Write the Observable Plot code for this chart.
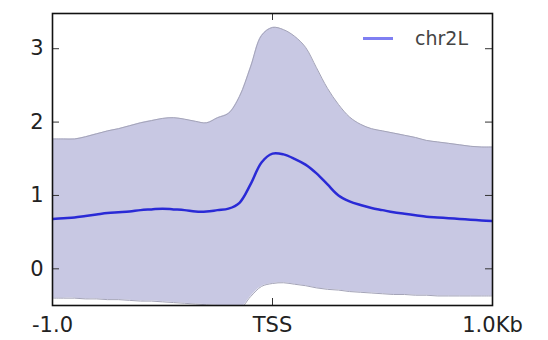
<!DOCTYPE html>
<html>
<head>
<meta charset="utf-8">
<script src="https://cdn.jsdelivr.net/npm/d3@7"></script>
<script src="https://cdn.jsdelivr.net/npm/@observablehq/plot@0.6"></script>
<style>
  html, body { margin: 0; padding: 0; background: #fff; }
  #wrap { position: relative; width: 548px; height: 340px; }
  #legend { position: absolute; left: 363px; top: 27px; display: flex; align-items: center;
            font-family: "DejaVu Sans", sans-serif; font-size: 19px; color: #444; }
  #legend .sw { width: 30px; height: 0; border-top: 3px solid #7f7ff2; margin-right: 22px; }
</style>
</head>
<body>
<div id="wrap">
  <div id="chart"></div>
  <div id="legend"><span class="sw"></span><span>chr2L</span></div>
</div>
<script>
// Position relative to TSS (kb)
const positions = [-1.0,-0.95,-0.9,-0.85,-0.8,-0.75,-0.7,-0.65,-0.6,-0.55,-0.5,-0.45,-0.4,-0.35,-0.3,-0.25,-0.2,-0.15,-0.1,-0.05,0,0.05,0.1,0.15,0.2,0.25,0.3,0.35,0.4,0.45,0.5,0.55,0.6,0.65,0.7,0.75,0.8,0.85,0.9,0.95,1.0];
// chr2L mean signal
const meanValues = [0.68,0.69,0.70,0.72,0.74,0.76,0.77,0.78,0.80,0.81,0.82,0.81,0.80,0.78,0.78,0.80,0.82,0.90,1.15,1.45,1.57,1.56,1.50,1.42,1.30,1.15,1.00,0.92,0.87,0.83,0.80,0.77,0.75,0.73,0.71,0.70,0.69,0.68,0.67,0.66,0.65];
// band upper (mean + std)
const upperValues = [1.77,1.77,1.77,1.80,1.84,1.88,1.91,1.95,1.99,2.02,2.05,2.06,2.04,2.01,1.99,2.06,2.12,2.35,2.75,3.18,3.29,3.26,3.17,3.02,2.74,2.46,2.24,2.07,1.97,1.91,1.88,1.85,1.82,1.79,1.75,1.73,1.71,1.69,1.67,1.66,1.66];
// band lower (mean - std)
const lowerValues = [-0.40,-0.40,-0.40,-0.41,-0.41,-0.42,-0.42,-0.43,-0.44,-0.44,-0.45,-0.46,-0.47,-0.48,-0.49,-0.50,-0.52,-0.55,-0.38,-0.24,-0.20,-0.19,-0.21,-0.23,-0.26,-0.28,-0.29,-0.31,-0.32,-0.33,-0.34,-0.35,-0.35,-0.36,-0.36,-0.37,-0.37,-0.37,-0.37,-0.37,-0.37];
const xTicks = [-1, 0, 1];
const xTickLabels = ["-1.0", "TSS", "1.0Kb"];
const yTicks = [0, 1, 2, 3];

const data = positions.map((x, i) => ({x, mean: meanValues[i], lo: lowerValues[i], hi: upperValues[i]}));

const W = 548, H = 340, mL = 52, mR = 56, mT = 13, mB = 35;
const innerW = W - mL - mR, innerH = H - mT - mB;
const tk = 7;

const chart = Plot.plot({
  width: W, height: H,
  marginLeft: mL, marginRight: mR, marginTop: mT, marginBottom: mB,
  style: {fontFamily: "DejaVu Sans, sans-serif", fontSize: "21px", color: "#222", background: "#fff"},
  x: {domain: [-1, 1]},
  y: {domain: [-0.5, 3.48]},
  marks: [
    Plot.areaY(data, {x: "x", y1: "lo", y2: "hi", fill: "#c8c8e3", curve: "catmull-rom", clip: true}),
    Plot.lineY(data, {x: "x", y: "hi", stroke: "#a4a4b8", strokeWidth: 1, curve: "catmull-rom", clip: true}),
    Plot.lineY(data, {x: "x", y: "lo", stroke: "#a4a4b8", strokeWidth: 1, curve: "catmull-rom", clip: true}),
    Plot.lineY(data, {x: "x", y: "mean", stroke: "#2a2ad6", strokeWidth: 2.5, curve: "catmull-rom", clip: true}),
    // inward ticks
    Plot.ruleY(yTicks, {y: d => d, insetRight: innerW - tk, stroke: "#333", strokeWidth: 1}),
    Plot.ruleY(yTicks, {y: d => d, insetLeft: innerW - tk, stroke: "#333", strokeWidth: 1}),
    Plot.ruleX(xTicks, {x: d => d, insetBottom: innerH - tk, stroke: "#333", strokeWidth: 1}),
    Plot.ruleX(xTicks, {x: d => d, insetTop: innerH - tk, stroke: "#333", strokeWidth: 1}),
    Plot.axisY(yTicks, {anchor: "left", tickSize: 0, tickPadding: 9, label: null, fontSize: 21,
      tickFormat: d => String(d)}),
    Plot.axisX(xTicks, {anchor: "bottom", tickSize: 0, tickPadding: 12, label: null, fontSize: 21,
      tickFormat: d => xTickLabels[xTicks.indexOf(d)]}),
    Plot.frame({stroke: "#111", strokeWidth: 1.6})
  ]
});
document.getElementById("chart").appendChild(chart);
</script>
</body>
</html>
